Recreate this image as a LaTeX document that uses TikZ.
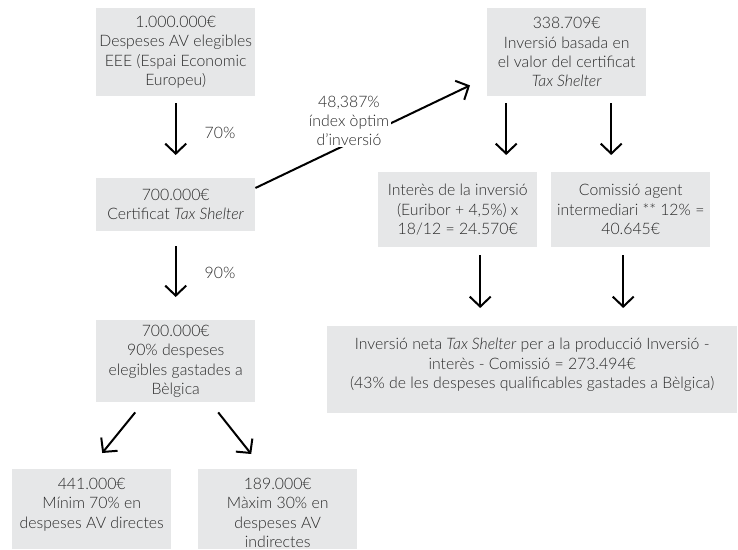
\documentclass[tikz,border=0pt]{standalone}
\usepackage{fontspec}
\setmainfont{Lato}[UprightFont={* Light}, ItalicFont={* Light Italic}]
\usetikzlibrary{arrows.meta,calc}

\definecolor{boxgray}{HTML}{E6E7E8}
\definecolor{textgray}{HTML}{2A2A2A}

% fixed-size text block: width, height, inner vertical position, text
\newcommand{\boxtext}[4]{\parbox[c][#2pt][#3]{#1pt}{\centering #4}}

\begin{document}
\begin{tikzpicture}[x=1pt, y=-1pt,
  every node/.style={text=textgray, font=\fontsize{15.8}{19.3}\selectfont},
  box/.style={fill=boxgray, inner sep=0pt, anchor=north west},
  plain/.style={inner sep=0pt, align=center},
  arr/.style={draw=black, line width=2pt,
    -{Straight Barb[length=10pt, width=21pt, line width=2pt]}}]

\useasboundingbox (0,0) rectangle (738,549);

% left column
\node[box] (eee) at (96,8)
  {\boxtext{159}{88}{c}{1.000.000€\\Despeses AV elegibles\\EEE (Espai Economic\\Europeu)}};
\node[box] (cert) at (96,178)
  {\boxtext{159}{53}{c}{700.000€\\Certificat \textit{Tax Shelter}}};
\node[box] (belg) at (96,320)
  {\boxtext{159}{82}{c}{700.000€\\90\% despeses\\elegibles gastades a\\Bèlgica}};
\node[box] (dir) at (12,469)
  {\boxtext{159}{80}{t}{\vspace*{9pt}441.000€\\Mínim 70\% en\\despeses AV directes}};
\node[box] (ind) at (198,469)
  {\boxtext{159}{80}{t}{\vspace*{9pt}189.000€\\Màxim 30\% en\\despeses AV\\indirectes}};

% right column
\node[box] (inv) at (487,8)
  {\boxtext{159}{88}{c}{338.709€\\Inversió basada en\\el valor del certificat\\\textit{Tax Shelter}}};
\node[box] (int) at (378,172)
  {\boxtext{159}{75}{c}{Interès de la inversió\\(Euribor + 4,5\%) x\\18/12 = 24.570€}};
\node[box] (com) at (551,172)
  {\boxtext{159}{75}{c}{Comissió agent\\intermediari ** 12\% =\\40.645€}};
\node[box] (neta) at (327,326)
  {\boxtext{410}{87}{t}{\vspace*{12pt}Inversió neta \textit{Tax Shelter} per a la producció Inversió -\\interès - Comissió = 273.494€\\(43\% de les despeses qualificables gastades a Bèlgica)}};

% vertical flow on the left
\draw[arr] ($(eee.south)+(0,7)$) -- ($(cert.north)+(0,-23)$);
\node[plain] (p70) at (220,133) {70\%};
\draw[arr] ($(cert.south)+(0,15)$) -- ($(belg.north)+(0,-23)$);
\node[plain] (p90) at (220,273) {90\%};
\draw[arr] ($(belg.south)+(-40.5,10)$) -- ($(dir.north)+(10.5,-16)$);
\draw[arr] ($(belg.south)+(42.5,10)$) -- ($(ind.north)+(-26.5,-15)$);

% certificate to investment, with the index label over the line
\coordinate (diagS) at ($(cert.north east)+(0,10)$);
\coordinate (diagE) at ($(inv.south west)+(-17,-11)$);
\draw[arr] (diagS) -- (diagE);
\node[plain, fill=white, inner sep=1.5pt, font=\fontsize{15.8}{19}\selectfont] (idx) at (349,121)
  {48,387\%\\índex òptim\\d’inversió};

% right side flow
\draw[arr] ($(inv.south)+(-60.5,7)$) -- ($(int.north)+(48.5,-17)$);
\draw[arr] ($(inv.south)+(44.5,7)$) -- ($(com.north)+(-19.5,-17)$);
\draw[arr] ($(int.south)+(22.5,8)$) -- ($(neta.north)+(-52,-18)$);
\draw[arr] ($(com.south)+(-7.5,8)$) -- ($(neta.north)+(91,-18)$);
\end{tikzpicture}
\end{document}
